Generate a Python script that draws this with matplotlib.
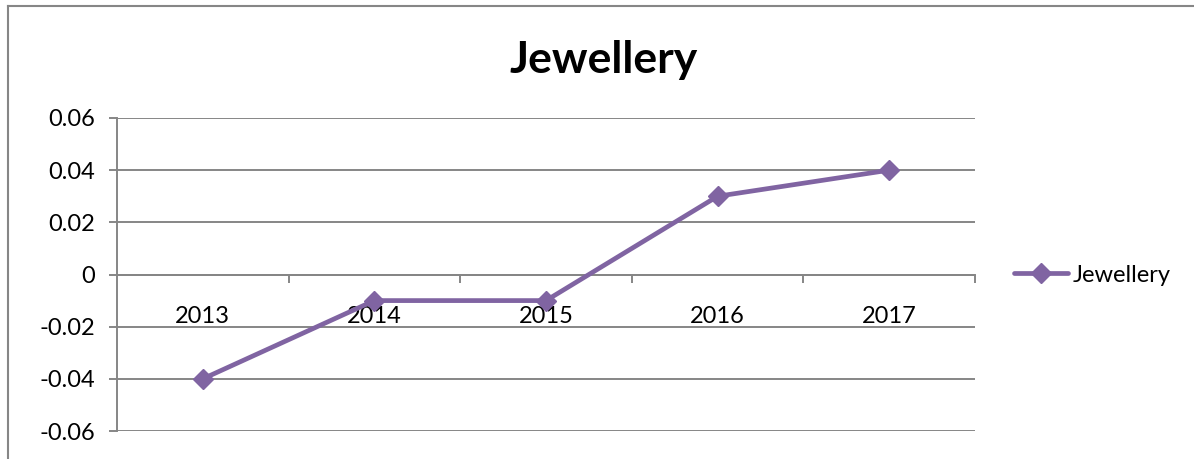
import matplotlib
matplotlib.use("Agg")
import matplotlib.pyplot as plt
from matplotlib.lines import Line2D
from matplotlib.ticker import FixedLocator

years = ["2013", "2014", "2015", "2016", "2017"]
values = [-0.04, -0.01, -0.01, 0.03, 0.04]
y_ticks = [-0.06, -0.04, -0.02, 0.0, 0.02, 0.04, 0.06]
y_labels = ["-0.06", "-0.04", "-0.02", "0", "0.02", "0.04", "0.06"]
series_name = "Jewellery"
title = "Jewellery"

plt.rcParams['font.family'] = ['Lato', 'DejaVu Sans']

W, H = 1194, 459
fig = plt.figure(figsize=(W / 100, H / 100), dpi=100)
fig.patch.set_facecolor("white")

grid_c = "#868686"
line_c = "#8064A2"
fs = 17

ax = fig.add_axes([117 / W, 1 - 431 / H, (975 - 117) / W, (431 - 118) / H])
x = list(range(len(years)))
ax.plot(x, values, color=line_c, lw=3.4, marker="D", ms=10.5,
        markerfacecolor=line_c, markeredgecolor=line_c, label=series_name,
        solid_joinstyle="round", solid_capstyle="round", zorder=3)

ax.set_xlim(-0.5, len(years) - 0.5)
ax.set_ylim(-0.06, 0.06)
ax.set_yticks(y_ticks)
ax.set_yticklabels(y_labels, fontsize=fs)
ax.yaxis.grid(True, color=grid_c, lw=1.4)
ax.set_axisbelow(True)

for s in ["top", "right"]:
    ax.spines[s].set_visible(False)
ax.spines["left"].set_color(grid_c)
ax.spines["left"].set_linewidth(1.4)
ax.spines["bottom"].set_position(("data", 0))
ax.spines["bottom"].set_color(grid_c)
ax.spines["bottom"].set_linewidth(1.4)

ax.set_xticks(x)
ax.set_xticklabels(years, fontsize=fs)
ax.xaxis.set_minor_locator(FixedLocator([i + 0.5 for i in range(len(years) - 1)] + [len(years) - 0.5]))
ax.tick_params(axis="x", which="major", length=0, pad=23)
ax.tick_params(axis="x", which="minor", length=6, width=1.4, color=grid_c, direction="out")
ax.tick_params(axis="y", length=6, width=1.4, color=grid_c, direction="out", pad=10)

leg = ax.legend(loc="center left", bbox_to_anchor=(1014 / W, 1 - 275 / H),
                bbox_transform=fig.transFigure, frameon=False, fontsize=fs,
                handlelength=2.3, handletextpad=0.2, borderpad=0, borderaxespad=0)

fig.text(604 / W, 1 - 60 / H, title, ha="center", va="center",
         fontsize=32, fontweight="bold")

# chart border (partially visible)
fig.add_artist(Line2D([8 / W, 8 / W], [0, 1 - 6 / H], transform=fig.transFigure,
                      color=grid_c, lw=1.5))
fig.add_artist(Line2D([8 / W, 1], [1 - 6 / H, 1 - 6 / H], transform=fig.transFigure,
                      color=grid_c, lw=1.5))

fig.savefig("out.png", dpi=100, facecolor="white")
